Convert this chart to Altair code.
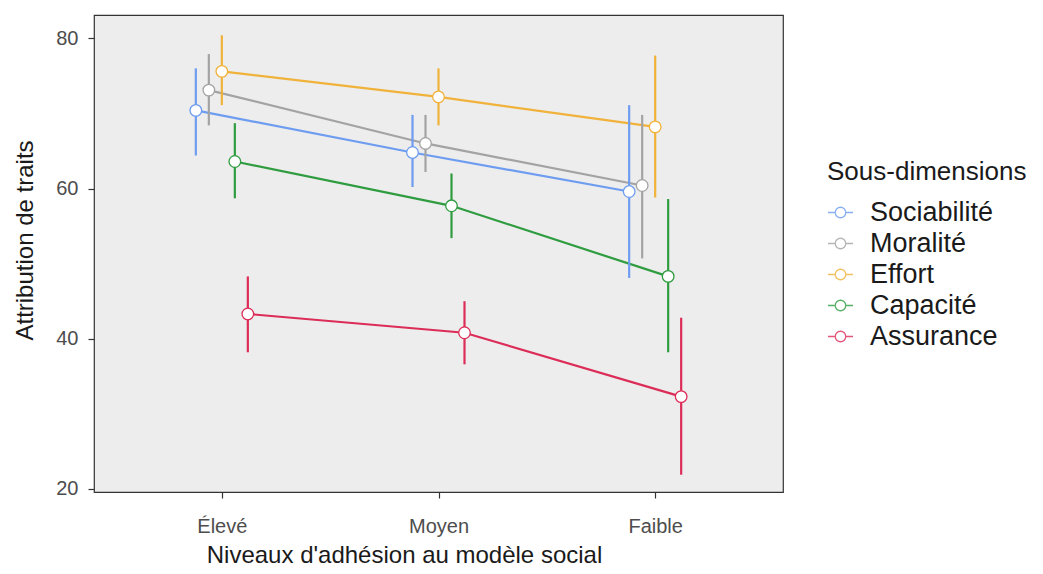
import json
import altair as alt
import pandas as pd

levels = ["Élevé", "Moyen", "Faible"]
series = ["Sociabilité", "Moralité", "Effort", "Capacité", "Assurance"]
colors = ["#6d9cf0", "#a3a3a3", "#f0b23a", "#2f9c40", "#dc2c58"]

sociabilite_mean = [70.4, 64.8, 59.6]
sociabilite_low = [64.4, 60.2, 48.1]
sociabilite_high = [76.0, 69.8, 71.1]

moralite_mean = [73.1, 66.0, 60.4]
moralite_low = [68.4, 62.2, 50.7]
moralite_high = [77.9, 69.8, 69.8]

effort_mean = [75.6, 72.2, 68.2]
effort_low = [71.1, 68.4, 58.8]
effort_high = [80.4, 76.0, 77.7]

capacite_mean = [63.6, 57.7, 48.3]
capacite_low = [58.7, 53.4, 38.2]
capacite_high = [68.7, 62.0, 58.6]

assurance_mean = [43.3, 40.8, 32.3]
assurance_low = [38.2, 36.6, 21.9]
assurance_high = [48.3, 45.0, 42.8]

y_ticks = [20, 40, 60, 80]

table = [
    (sociabilite_mean, sociabilite_low, sociabilite_high),
    (moralite_mean, moralite_low, moralite_high),
    (effort_mean, effort_low, effort_high),
    (capacite_mean, capacite_low, capacite_high),
    (assurance_mean, assurance_low, assurance_high),
]

rows = []
for si, (name, (m, lo, hi)) in enumerate(zip(series, table)):
    for li, lev in enumerate(levels):
        rows.append({"serie": name, "si": si, "niveau": lev, "li": li,
                     "moy": m[li], "bas": lo[li], "haut": hi[li]})
df = pd.DataFrame(rows)

FONT = "Liberation Sans"
dodge = 0.06

stroke = alt.Stroke("serie:N", scale=alt.Scale(domain=series, range=colors),
                    sort=series,
                    legend=alt.Legend(title="Sous-dimensions"))

x_enc = alt.X("xpos:Q",
              scale=alt.Scale(domain=[-0.59, 2.59], nice=False, zero=False),
              axis=alt.Axis(values=[0, 1, 2],
                            labelExpr=json.dumps(levels) + "[datum.value]",
                            title="Niveaux d'adhésion au modèle social",
                            titleX=310, titleY=70, titleBaseline="alphabetic",
                            labelBaseline="alphabetic", labelPadding=34))
y_enc = alt.Y("moy:Q",
              scale=alt.Scale(domain=[19.6, 83.1], nice=False, zero=False),
              axis=alt.Axis(values=y_ticks, title="Attribution de traits",
                            titleX=-69, titleY=225, titleAngle=-90,
                            titleBaseline="middle", titleAlign="center",
                            labelPadding=10))

base = alt.Chart(df).transform_calculate(
    xpos=f"datum.li + (datum.si - 2) * {dodge}"
)

lines = base.mark_line(strokeWidth=2.2).encode(
    x=x_enc, y=y_enc, stroke=stroke, order="li:Q"
)
bars = base.mark_rule(strokeWidth=2.2).encode(
    x="xpos:Q", y="bas:Q", y2="haut:Q", stroke=stroke
)
points = base.mark_point(shape="circle", size=135, fill="white",
                         fillOpacity=1, strokeWidth=1.3, opacity=1).encode(
    x="xpos:Q", y="moy:Q", stroke=stroke
)

legend_path = ("M -1 0 L -0.42 0 M 0.42 0 L 1 0 "
               "M 0.42 0 A 0.42 0.42 0 1 1 -0.42 0 A 0.42 0.42 0 1 1 0.42 0 Z")

chart = alt.layer(lines, bars, points).properties(
    width=689, height=477,
    autosize=alt.AutoSizeParams(type="none"),
    padding={"left": 86, "top": 7, "right": 252, "bottom": 74},
).configure_view(
    fill="#ededed", stroke="#333333", strokeWidth=1.2
).configure_axis(
    grid=False, domain=False, tickColor="#333333", tickSize=6, tickWidth=1.2,
    labelFont=FONT, labelFontSize=20, labelColor="#4d4d4d",
    titleFont=FONT, titleFontSize=24, titleColor="#1a1a1a",
    titleFontWeight="normal"
).configure_legend(
    orient="none", legendX=733, legendY=144, padding=0,
    titleFont=FONT, titleFontSize=26, titleFontWeight="normal",
    titleColor="#1a1a1a", titlePadding=14, titleLimit=400,
    labelFont=FONT, labelFontSize=27, labelColor="#1a1a1a", labelOffset=16,
    labelLimit=400,
    symbolType=legend_path, symbolSize=625, symbolStrokeWidth=1.3,
    symbolFillColor="white", symbolOpacity=0.8, rowPadding=3
)

chart.save("out.html", embed_options={"renderer": "svg", "actions": False})
